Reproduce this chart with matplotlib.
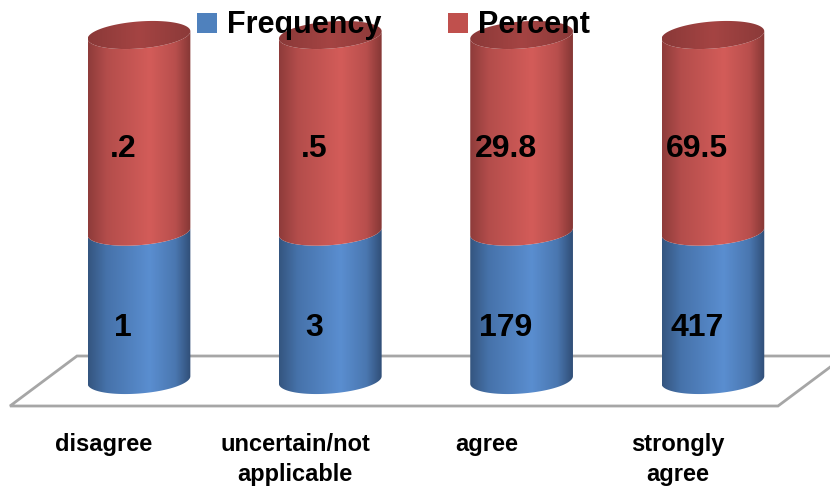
import numpy as np
import matplotlib
matplotlib.use("Agg")
import matplotlib.pyplot as plt
from matplotlib.patches import Polygon, Rectangle
from matplotlib.colors import LinearSegmentedColormap

plt.rcParams['font.family'] = ['Liberation Sans', 'DejaVu Sans']
plt.rcParams['font.weight'] = 'bold'

categories = ["disagree", "uncertain/not\napplicable", "agree", "strongly\nagree"]
frequency = [1, 3, 179, 417]
percent = [0.2, 0.5, 29.8, 69.5]
percent_text = [".2", ".5", "29.8", "69.5"]
series = ["Frequency", "Percent"]

# every column is drawn full height, the lower band holds Frequency
band_split = 0.43

# layout in pixels
W, H = 830, 498
x0_px, step_px = 139.0, 191.3      # first column centre, column spacing
base_px, top_px = 380.0, 35.0      # bottom and top ellipse centres
a_px, b_px, tilt = 51.5, 13.5, np.deg2rad(4.5)
unit_px = base_px - top_px

fig = plt.figure(figsize=(W / 100, H / 100), dpi=100)
ax = fig.add_axes([0, 0, 1, 1])
ax.set_xlim(-x0_px / step_px, (W - x0_px) / step_px)
ax.set_ylim(-(H - base_px) / unit_px, base_px / unit_px)
ax.axis('off')


def px(x, y):
    # pixel position (from top-left) to data coordinates
    return (x - x0_px) / step_px, (base_px - y) / unit_px


def ellipse(xc, yc, t):
    ex = a_px * np.cos(t) * np.cos(tilt) - b_px * np.sin(t) * np.sin(tilt)
    ey = a_px * np.cos(t) * np.sin(tilt) + b_px * np.sin(t) * np.cos(tilt)
    return np.column_stack([xc + ex / step_px, yc + ey / unit_px])


t0 = np.arctan2(-b_px * np.sin(tilt), a_px * np.cos(tilt))
front = np.linspace(t0 + np.pi, t0 + 2 * np.pi, 80)
full = np.linspace(0, 2 * np.pi, 160)
half_w = np.sqrt((a_px * np.cos(tilt)) ** 2 + (b_px * np.sin(tilt)) ** 2) / step_px

blue_cmap = LinearSegmentedColormap.from_list("blue", [
    (0.0, "#34557f"), (0.18, "#4672aa"), (0.6, "#5a8ed0"), (0.85, "#4a77b0"), (1.0, "#304e77")])
red_cmap = LinearSegmentedColormap.from_list("red", [
    (0.0, "#8e3b3a"), (0.18, "#b34d4b"), (0.6, "#d35c59"), (0.85, "#b84f4d"), (1.0, "#853735")])
cap_cmap = LinearSegmentedColormap.from_list("cap", [
    (0.0, "#8a3938"), (0.5, "#a54443"), (1.0, "#8b3a39")])
grad = np.linspace(0, 1, 256).reshape(1, -1)


def shaded(poly, cmap, xc, y0, y1, z):
    patch = Polygon(poly, closed=True, transform=ax.transData, facecolor='none', edgecolor='none')
    im = ax.imshow(grad, cmap=cmap, aspect='auto', interpolation='bilinear',
                   extent=[xc - half_w, xc + half_w, y0, y1], zorder=z)
    im.set_clip_path(patch)


# floor
floor = [px(10, 406), px(77, 356), px(845, 356), px(778, 406)]
ax.add_patch(Polygon(floor, closed=True, facecolor='white', edgecolor='#a6a6a6', lw=2, zorder=1))

pad = 0.1
for i, cat in enumerate(categories):
    xc = i
    split = band_split
    blue = np.vstack([ellipse(xc, 0, front), ellipse(xc, split, front[::-1])])
    shaded(blue, blue_cmap, xc, -pad, split + pad, 2)
    red = np.vstack([ellipse(xc, split, front), ellipse(xc, 1, front[::-1])])
    shaded(red, red_cmap, xc, split - pad, 1 + pad, 3)
    shaded(ellipse(xc, 1, full), cap_cmap, xc, 1 - pad, 1 + pad, 4)

    dx = -16 / step_px
    ax.text(xc + dx, split / 2 - 22 / unit_px, f"{frequency[i]}", ha='center', va='center',
            fontsize=23, fontweight='bold', zorder=6)
    ax.text(xc + dx, (split + 1) / 2 - 16 / unit_px, percent_text[i], ha='center', va='center',
            fontsize=23, fontweight='bold', zorder=6)
    ax.text(xc - 35 / step_px, px(0, 433)[1], cat, ha='center', va='top',
            fontsize=17, fontweight='bold', linespacing=1.4, zorder=6)

# legend
colors = ["#4f81bd", "#c0504d"]
for (sx, tx), name, c in zip([(197, 227), (448, 478)], series, colors):
    fig.add_artist(Rectangle((sx / W, 1 - 33 / H), 20 / W, 20 / H, transform=fig.transFigure,
                             facecolor=c, edgecolor='none', zorder=7))
    fig.text(tx / W, 1 - 33 / H, name, ha='left', va='baseline', fontsize=22,
             fontweight='bold', zorder=8)

fig.savefig("out.png", dpi=100, facecolor='white')
